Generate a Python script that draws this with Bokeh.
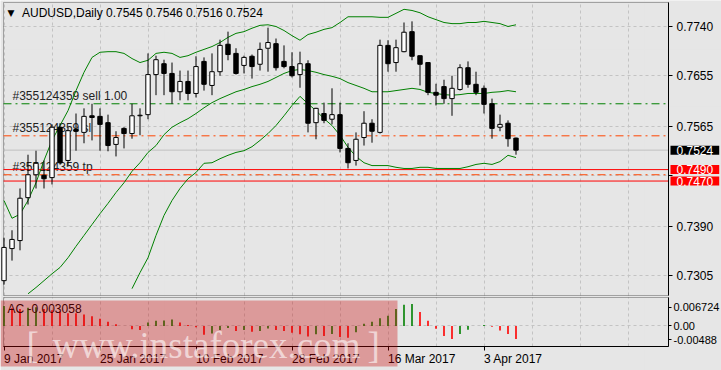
import math
from bokeh.plotting import figure
from bokeh.models import (Range1d, FixedTicker, Grid, Label, BoxAnnotation, ColumnDataSource,
                          LinearAxis)
from bokeh.embed import file_html
from bokeh.resources import INLINE

NaN = float("nan")

# ---- data ----
opens = [0.7296, 0.7352, 0.7366, 0.7441, 0.7481, 0.7480, 0.7476, 0.7564, 0.7506, 0.7560,
         0.7555, 0.7584, 0.7583, 0.7572, 0.7534, 0.7562, 0.7553, 0.7584, 0.7586, 0.7656,
         0.7675, 0.7658, 0.7626, 0.7644, 0.7623, 0.7679, 0.7637, 0.7661, 0.7709, 0.7693,
         0.7672, 0.7688, 0.7674, 0.7702, 0.7710, 0.7679, 0.7670, 0.7656, 0.7675, 0.7572,
         0.7588, 0.7578, 0.7586, 0.7527, 0.7506, 0.7546, 0.7571, 0.7555, 0.7707, 0.7677,
         0.7696, 0.7731, 0.7689, 0.7677, 0.7625, 0.7635, 0.7614, 0.7630, 0.7668, 0.7639,
         0.7632, 0.7605, 0.7564, 0.7571, 0.7545]
highs = [0.7371, 0.7384, 0.7457, 0.7516, 0.7523, 0.7506, 0.7569, 0.7571, 0.7564, 0.7588,
         0.7597, 0.7605, 0.7597, 0.7586, 0.7557, 0.7564, 0.7605, 0.7597, 0.7693, 0.7689,
         0.7682, 0.7677, 0.7663, 0.7663, 0.7688, 0.7686, 0.7693, 0.7717, 0.7731, 0.7702,
         0.7689, 0.7691, 0.7712, 0.7738, 0.7719, 0.7707, 0.7695, 0.7696, 0.7681, 0.7598,
         0.7607, 0.7632, 0.7607, 0.7536, 0.7555, 0.7592, 0.7578, 0.7717, 0.7716, 0.7717,
         0.7747, 0.7749, 0.7689, 0.7677, 0.7640, 0.7647, 0.7654, 0.7674, 0.7679, 0.7661,
         0.7637, 0.7614, 0.7586, 0.7576, 0.7546]
lows = [0.7289, 0.7331, 0.7349, 0.7429, 0.7457, 0.7457, 0.7464, 0.7499, 0.7497, 0.7523,
        0.7536, 0.7541, 0.7523, 0.7522, 0.7513, 0.7527, 0.7544, 0.7550, 0.7578, 0.7620,
        0.7620, 0.7605, 0.7611, 0.7611, 0.7616, 0.7628, 0.7620, 0.7654, 0.7681, 0.7656,
        0.7658, 0.7649, 0.7663, 0.7661, 0.7663, 0.7667, 0.7651, 0.7633, 0.7555, 0.7543,
        0.7571, 0.7569, 0.7520, 0.7492, 0.7497, 0.7532, 0.7537, 0.7553, 0.7661, 0.7661,
        0.7695, 0.7681, 0.7637, 0.7620, 0.7602, 0.7605, 0.7584, 0.7628, 0.7633, 0.7620,
        0.7588, 0.7544, 0.7557, 0.7530, 0.7516]
closes = [0.7354, 0.7368, 0.7440, 0.7481, 0.7501, 0.7474, 0.7564, 0.7502, 0.7558, 0.7557,
          0.7583, 0.7581, 0.7569, 0.7532, 0.7546, 0.7553, 0.7584, 0.7585, 0.7656, 0.7682,
          0.7658, 0.7626, 0.7644, 0.7623, 0.7670, 0.7639, 0.7661, 0.7707, 0.7691, 0.7658,
          0.7686, 0.7670, 0.7700, 0.7712, 0.7668, 0.7670, 0.7654, 0.7675, 0.7571, 0.7597,
          0.7576, 0.7586, 0.7527, 0.7502, 0.7543, 0.7571, 0.7557, 0.7707, 0.7675, 0.7703,
          0.7730, 0.7688, 0.7674, 0.7625, 0.7620, 0.7614, 0.7632, 0.7668, 0.7639, 0.7625,
          0.7604, 0.7562, 0.7569, 0.7544, 0.7524]

bb_upper = [0.7436, 0.7405, 0.7412, 0.7436, 0.7467, 0.7506, 0.7541, 0.7567, 0.7593, 0.7628,
            0.7660, 0.7686, 0.7695, 0.7696, 0.7696, 0.7693, 0.7684, 0.7677, 0.7681, 0.7693,
            0.7695, 0.7693, 0.7686, 0.7689, 0.7695, 0.7700, 0.7705, 0.7712, 0.7721, 0.7728,
            0.7731, 0.7737, 0.7742, 0.7743, 0.7740, 0.7733, 0.7724, 0.7716, 0.7726, 0.7730,
            0.7735, 0.7738, 0.7747, 0.7757, 0.7757, 0.7757, 0.7757, 0.7756, 0.7756, 0.7763,
            0.7770, 0.7768, 0.7764, 0.7757, 0.7752, 0.7747, 0.7745, 0.7745, 0.7747, 0.7747,
            0.7749, 0.7747, 0.7745, 0.7740, 0.7743]
bb_middle = [0.7240, 0.7253, 0.7263, 0.7273, 0.7284, 0.7296, 0.7308, 0.7319, 0.7336, 0.7356,
             0.7375, 0.7394, 0.7413, 0.7431, 0.7450, 0.7467, 0.7487, 0.7502, 0.7520, 0.7532,
             0.7551, 0.7564, 0.7572, 0.7579, 0.7588, 0.7598, 0.7607, 0.7614, 0.7620, 0.7626,
             0.7630, 0.7635, 0.7639, 0.7644, 0.7651, 0.7658, 0.7663, 0.7665, 0.7663, 0.7660,
             0.7656, 0.7653, 0.7649, 0.7642, 0.7637, 0.7632, 0.7626, 0.7626, 0.7626, 0.7628,
             0.7630, 0.7632, 0.7630, 0.7625, 0.7623, 0.7621, 0.7620, 0.7621, 0.7623, 0.7623,
             0.7623, 0.7625, 0.7626, 0.7628, 0.7626]
bb_lower = [NaN, NaN, NaN, NaN, NaN, NaN, NaN, NaN, NaN, NaN,
            NaN, NaN, NaN, NaN, 0.7218, 0.7253, 0.7282, 0.7310, 0.7336, 0.7375,
            0.7410, 0.7436, 0.7457, 0.7474, 0.7485, 0.7501, 0.7502, 0.7509, 0.7515, 0.7520,
            0.7523, 0.7530, 0.7541, 0.7553, 0.7567, 0.7584, 0.7602, 0.7618, 0.7605, 0.7593,
            0.7579, 0.7567, 0.7550, 0.7529, 0.7513, 0.7502, 0.7497, 0.7497, 0.7497, 0.7494,
            0.7492, 0.7492, 0.7494, 0.7494, 0.7492, 0.7492, 0.7492, 0.7492, 0.7495, 0.7499,
            0.7501, 0.7499, 0.7504, 0.7515, 0.7511]

ac_values = [0.0047, 0.0042, 0.0040, 0.0043, 0.0044, 0.0040, 0.0037, 0.0034, 0.0030, 0.0030,
             0.0027, 0.0023, 0.0017, 0.0010, 0.0004, 0.0000, -0.0008, -0.0010, 0.0008, 0.0012,
             0.0013, 0.0015, 0.0008, 0.0002, -0.0003, -0.0021, -0.0018, -0.0010, -0.0005, -0.0012,
             -0.0010, -0.0014, -0.0012, -0.0006, -0.0010, -0.0012, -0.0016, -0.0020, -0.0025, -0.0020,
             -0.0024, -0.0019, -0.0026, -0.0028, -0.0015, 0.0005, 0.0010, 0.0018, 0.0024, 0.0040,
             0.0050, 0.0052, 0.0033, 0.0012, -0.0007, -0.0024, -0.0031, -0.0019, -0.0009, 0.0000,
             0.0002, -0.0002, -0.0011, -0.0019, -0.0031]

date_label_bars = [0, 12, 24, 36, 48, 60]
date_labels = ["9 Jan 2017", "25 Jan 2017", "10 Feb 2017", "28 Feb 2017", "16 Mar 2017", "3 Apr 2017"]
price_tick_values = [0.7740, 0.76545, 0.7565, 0.7479, 0.7390, 0.7305]
price_tick_labels = ["0.7740", "0.7655", "0.7565", "", "0.7390", "0.7305"]
ac_tick_values = [0.00443, 0.0, -0.00329]
ac_tick_labels = ["0.006724", "0.00", "-0.00488"]

symbol_title = "AUDUSD,Daily  0.7545 0.7546 0.7516 0.7524"
ac_title = "AC -0.003058"
order_id = "#355124359"
sell_price = 0.7605
sl_price = 0.7549
tp_price = 0.7481
level_hi = 0.7490
level_lo = 0.7470
bid_price = 0.7524

# ---- layout constants (pane edges in scale units) ----
X_FULL = (-0.4375, 89.6875)          # whole canvas, bar units
PANE_L, PANE_R = -0.0625, 83.0625    # chart panes, bar units
Y_FULL = (0.713902, 0.778542)        # whole canvas, price units
PANE_BOTTOM, PANE_TOP = 0.727005, 0.778193
XAXIS_AT = 0.718095                  # bottom edge of indicator pane, price units
AC_FULL = (-0.010562, 0.077060)      # whole canvas, AC units
AC_MIN, AC_MAX = -0.00488, 0.006724

BG = "#e6e6e6"
FONT = "Liberation Sans"
GRID_C = "#c3c3c3"
BAND_C = "#008000"
ORANGE = "#ff4500"
W, H = 721, 370

bars = list(range(len(opens)))
grid_bars = list(range(0, 84, 6))

p = figure(frame_width=W, frame_height=H, x_range=Range1d(*X_FULL), y_range=Range1d(*Y_FULL),
           x_axis_location=None, y_axis_location=None,
           output_backend="svg", toolbar_location=None, min_border=0,
           background_fill_color=BG, border_fill_color=BG, outline_line_color=None)
p.extra_y_ranges = {"ac": Range1d(*AC_FULL)}

# grids
p.add_layout(Grid(dimension=0, ticker=FixedTicker(ticks=grid_bars), cross_bounds=(PANE_BOTTOM, PANE_TOP),
                  grid_line_color=GRID_C, grid_line_dash="3 3"))
p.add_layout(Grid(dimension=1, ticker=FixedTicker(ticks=price_tick_values), cross_bounds=(PANE_L, PANE_R),
                  grid_line_color=GRID_C, grid_line_dash="3 3"))
p.add_layout(Grid(dimension=0, y_range_name="ac", ticker=FixedTicker(ticks=grid_bars),
                  cross_bounds=(AC_MIN, AC_MAX), grid_line_color=GRID_C, grid_line_dash="3 3"))
p.add_layout(Grid(dimension=1, y_range_name="ac", ticker=FixedTicker(ticks=[0.0]),
                  cross_bounds=(PANE_L, PANE_R), grid_line_color=GRID_C, grid_line_dash="3 3"))

# pane frames
p.add_layout(BoxAnnotation(left=PANE_L, right=PANE_R, bottom=PANE_BOTTOM, top=PANE_TOP,
                           fill_alpha=0, line_color="black", line_width=1, level="underlay"))
p.add_layout(BoxAnnotation(left=PANE_L, right=PANE_R, bottom=AC_MIN, top=AC_MAX, y_range_name="ac",
                           fill_alpha=0, line_color="black", line_width=1, level="underlay"))

# axes
ya = LinearAxis(fixed_location=PANE_R, bounds=(PANE_BOTTOM, PANE_TOP),
                ticker=FixedTicker(ticks=price_tick_values),
                major_label_overrides={v: s for v, s in zip(price_tick_values, price_tick_labels)})
acy = LinearAxis(fixed_location=PANE_R, bounds=(AC_MIN, AC_MAX), y_range_name="ac",
                 ticker=FixedTicker(ticks=ac_tick_values),
                 major_label_overrides={v: s for v, s in zip(ac_tick_values, ac_tick_labels)})
xa = LinearAxis(fixed_location=XAXIS_AT, bounds=(PANE_L, PANE_R),
                ticker=FixedTicker(ticks=date_label_bars),
                major_label_overrides={b: s for b, s in zip(date_label_bars, date_labels)},
                major_label_orientation=-0.0001)
for ax, so, fs in [(ya, 4, "12px"), (acy, 2, "11px"), (xa, 9, "12px")]:
    ax.major_tick_out = 4 if ax is not acy else 3
    ax.major_tick_in = 0
    ax.minor_tick_out = 0
    ax.minor_tick_in = 0
    ax.major_label_standoff = so
    ax.axis_line_color = "black"
    ax.major_tick_line_color = "black"
    ax.major_label_text_font = FONT
    ax.major_label_text_font_size = fs
    ax.major_label_text_color = "black"
p.add_layout(ya, "right")
p.add_layout(acy, "right")
p.add_layout(xa, "below")

# order / level lines
for pr, col, dash in [(bid_price, "#c0c0c0", "solid"), (sell_price, "#008000", "8 4 2 4"),
                      (sl_price, ORANGE, "8 4 2 4"), (tp_price, ORANGE, "8 4 2 4"),
                      (level_hi, "#ff0000", "solid"), (level_lo, "#ff0000", "solid")]:
    p.segment(x0=[PANE_L], y0=[pr], x1=[PANE_R], y1=[pr], line_color=col, line_width=1, line_dash=dash)

for txt, pr in [(order_id + " sell 1.00", sell_price), (order_id + " sl", sl_price), (order_id + " tp", tp_price)]:
    p.add_layout(Label(x=12, y=pr, x_units="screen", text=txt, text_font=FONT, text_font_size="12px",
                       text_color="#222222", text_baseline="bottom", y_offset=1, level="underlay"))


def in_pane(vals):
    return [v if (v == v and PANE_BOTTOM <= v <= PANE_TOP) else NaN for v in vals]


# bollinger bands
p.line(bars, in_pane(bb_upper), line_color=BAND_C, line_width=1)
p.line(bars, in_pane(bb_middle), line_color=BAND_C, line_width=1)
p.line(bars, in_pane(bb_lower), line_color=BAND_C, line_width=1)

# candles
src = ColumnDataSource(dict(
    x=bars, high=highs, low=lows,
    top=[max(o, c) for o, c in zip(opens, closes)],
    bottom=[min(o, c) for o, c in zip(opens, closes)],
    fill=["white" if c >= o else "black" for o, c in zip(opens, closes)],
))
p.segment(x0="x", y0="low", x1="x", y1="high", source=src, line_color="black", line_width=1)
p.vbar(x="x", width=0.55, top="top", bottom="bottom", fill_color="fill", line_color="black",
       line_width=1, source=src)

# AC histogram
ac_colors = ["#008000" if (i == 0 or ac_values[i] > ac_values[i - 1]) else "#ff0000" for i in bars]
p.vbar(x=bars, width=0.2, top=ac_values, bottom=0, fill_color=ac_colors, line_alpha=0, y_range_name="ac")

# titles
p.add_layout(Label(x=7, y=H - 12.5, x_units="screen", y_units="screen", text="\u25bc", text_font="DejaVu Sans",
                   text_font_size="9px", text_color="black", text_baseline="middle"))
p.add_layout(Label(x=21.5, y=H - 12.5, x_units="screen", y_units="screen", text=symbol_title, text_font=FONT,
                   text_font_size="12px", text_color="black", text_baseline="middle"))
p.add_layout(Label(x=7, y=H - 308, x_units="screen", y_units="screen", text=ac_title, text_font=FONT,
                   text_font_size="12px", text_color="black", text_baseline="middle"))

# right-side price tags
p.add_layout(Label(x=670, y=bid_price, x_units="screen", text="%.4f" % bid_price, text_font=FONT,
                   text_font_size="12px", text_color="white", text_baseline="middle",
                   background_fill_color="black", padding=dict(left=6, right=6, top=0, bottom=0)))
for pr in [level_hi, level_lo]:
    p.add_layout(Label(x=670, y=pr, x_units="screen", text="%.4f" % pr, text_font=FONT,
                       text_font_size="12px", text_color="white", text_baseline="middle",
                       background_fill_color="#ff0000", padding=dict(left=6, right=6, top=0, bottom=0)))

# watermark
p.add_layout(BoxAnnotation(left=0, right=397, top=H - 300, bottom=H - 366,
                           left_units="screen", right_units="screen", top_units="screen", bottom_units="screen",
                           fill_color="#c80000", fill_alpha=0.33, line_alpha=0, level="overlay"))
for txt, xx in [("[", 26), ("www.instaforex.com", 52), ("]", 367)]:
    p.add_layout(Label(x=xx, y=H - 345, x_units="screen", y_units="screen", text=txt,
                       text_font="Liberation Sans Narrow", text_font_size="37px", text_color="white",
                       text_alpha=0.6, text_baseline="alphabetic", level="overlay"))

open("out.html", "w").write(file_html(p, INLINE))
